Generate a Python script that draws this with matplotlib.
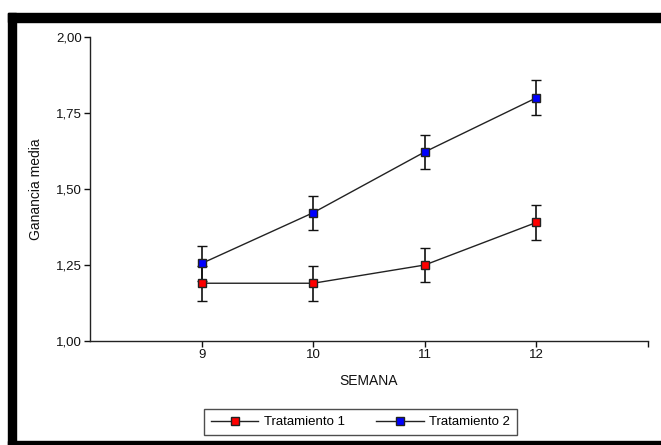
import matplotlib.pyplot as plt
from matplotlib.patches import Rectangle

plt.rcParams['font.family'] = ['Liberation Sans', 'DejaVu Sans']

semanas = [9, 10, 11, 12]
trat1 = [1.19, 1.19, 1.25, 1.39]
trat2 = [1.255, 1.422, 1.622, 1.80]
err1 = [0.057, 0.057, 0.057, 0.057]
err2 = [0.057, 0.056, 0.056, 0.058]
yticks = [1.00, 1.25, 1.50, 1.75, 2.00]
ytick_labels = ["1,00", "1,25", "1,50", "1,75", "2,00"]

W, H = 661, 445
fig = plt.figure(figsize=(W / 100, H / 100), dpi=100)
ax = fig.add_axes([90 / W, 1 - 341 / H, (648 - 90) / W, (341 - 37) / H])

common = dict(color="#222222", lw=1.0, marker="s", markersize=5.5,
              markeredgecolor="#222222", markeredgewidth=1.0,
              ecolor="#111111", elinewidth=1.2, capsize=3.5, capthick=1.2)
ax.errorbar(semanas, trat1, yerr=err1, markerfacecolor="#ff0000",
            label="Tratamiento 1", **common)
ax.errorbar(semanas, trat2, yerr=err2, markerfacecolor="#0000ff",
            label="Tratamiento 2", **common)

ax.set_xlim(8, 13)
ax.set_ylim(1.0, 2.0)
ax.set_xticks(semanas + [13])
ax.set_xticklabels([str(s) for s in semanas] + [""])
ax.set_yticks(yticks)
ax.set_yticklabels(ytick_labels)
ax.tick_params(direction="out", length=4, width=1, labelsize=9.5,
               colors="#111111", pad=2)
for s in ["top", "right"]:
    ax.spines[s].set_visible(False)
for s in ["left", "bottom"]:
    ax.spines[s].set_linewidth(1.0)
    ax.spines[s].set_color("#222222")

ax.set_xlabel("SEMANA", fontsize=10, labelpad=9, color="#111111")
ax.set_ylabel("Ganancia media", fontsize=10, labelpad=9, color="#111111")

handles, labels = ax.get_legend_handles_labels()
handles = [h[0] for h in handles]
leg = fig.legend(handles, labels, loc="center", ncol=2,
                 bbox_to_anchor=(360.5 / W, 1 - 422 / H), fontsize=9.5,
                 frameon=True, fancybox=False, edgecolor="#222222",
                 handlelength=3.6, handletextpad=0.4, columnspacing=2.4,
                 borderpad=0.5)
leg.get_frame().set_linewidth(1.0)

# thick black frame around the picture
fig.patches.append(Rectangle((8 / W, 0), 8 / W, (H - 13) / H,
                             transform=fig.transFigure, color="black", zorder=5))
fig.patches.append(Rectangle((8 / W, 1 - 22 / H), (W - 8) / W, 9 / H,
                             transform=fig.transFigure, color="black", zorder=5))
fig.patches.append(Rectangle((8 / W, 0), (W - 8) / W, 4 / H,
                             transform=fig.transFigure, color="black", zorder=5))

fig.savefig("out.png", dpi=100)
